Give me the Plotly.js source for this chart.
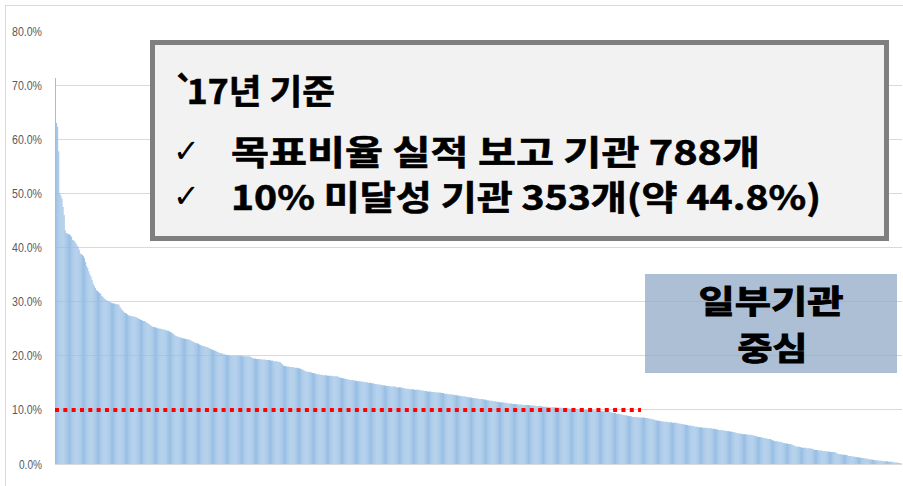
<!DOCTYPE html>
<html>
<head>
<meta charset="utf-8">
<script src="https://cdn.plot.ly/plotly-3.0.1.min.js"></script>
<style>
  html, body { margin: 0; padding: 0; width: 903px; height: 486px; overflow: hidden; background: #ffffff; }
  #frame { position: absolute; left: 5px; top: 5px; width: 920px; height: 520px; border: 1px solid #d9d9d9; box-sizing: border-box; }
  #chart { position: absolute; left: 0; top: 0; width: 903px; height: 486px; }
</style>
</head>
<body>
<div id="frame"></div>
<div id="chart"></div>
<script>
// Ratio (%) per institution, sorted descending (788 institutions, 2017)
const ratios = [
71.3,63.0,62.3,57.8,50.0,49.6,49.0,47.5,46.0,43.2,
42.7,42.6,42.5,42.4,42.2,42.0,41.4,41.3,41.1,40.8,
40.4,40.1,39.6,38.9,38.8,38.6,38.4,38.0,37.3,36.6,
36.2,35.6,35.0,34.6,34.0,33.3,32.9,32.5,32.1,32.0,
31.8,31.6,31.5,31.1,30.9,30.7,30.5,30.3,30.2,30.1,
30.0,29.9,29.8,29.7,29.7,29.6,29.6,29.5,29.5,29.4,
29.0,28.7,28.4,28.2,28.0,27.9,27.8,27.6,27.5,27.4,
27.4,27.3,27.3,27.2,27.2,27.1,27.0,26.9,26.8,26.7,
26.6,26.5,26.4,26.4,26.3,26.1,26.0,25.8,25.7,25.5,
25.4,25.3,25.3,25.2,25.2,25.1,25.1,25.0,25.0,24.9,
24.9,24.8,24.8,24.7,24.6,24.6,24.5,24.4,24.3,24.1,
24.0,23.8,23.7,23.6,23.5,23.4,23.4,23.3,23.3,23.2,
23.2,23.1,23.1,23.0,23.0,22.9,22.8,22.7,22.6,22.5,
22.4,22.3,22.3,22.2,22.1,22.0,21.9,21.8,21.8,21.7,
21.6,21.6,21.5,21.4,21.3,21.2,21.1,21.0,21.0,20.9,
20.8,20.7,20.6,20.5,20.5,20.4,20.3,20.3,20.2,20.2,
20.1,20.1,20.1,20.0,20.0,20.0,20.0,20.0,20.0,20.0,
20.0,20.0,20.0,20.0,19.9,19.9,19.9,19.9,19.9,19.9,
19.9,19.8,19.7,19.6,19.5,19.5,19.5,19.4,19.4,19.4,
19.4,19.3,19.3,19.3,19.3,19.3,19.2,19.2,19.2,19.2,
19.1,19.1,19.1,19.0,19.0,19.0,19.0,18.9,18.9,18.8,
18.6,18.4,18.2,18.1,18.1,18.0,18.0,18.0,17.9,17.9,
17.9,17.9,17.8,17.8,17.8,17.8,17.7,17.7,17.6,17.5,
17.4,17.3,17.2,17.1,17.1,17.0,17.0,17.0,16.9,16.8,
16.8,16.7,16.7,16.6,16.6,16.6,16.5,16.5,16.5,16.4,
16.4,16.4,16.4,16.3,16.3,16.3,16.3,16.3,16.2,16.2,
16.2,16.2,16.2,16.1,16.0,16.0,15.9,15.9,15.8,15.8,
15.7,15.7,15.6,15.6,15.5,15.5,15.5,15.5,15.4,15.4,
15.4,15.3,15.3,15.3,15.3,15.2,15.2,15.2,15.1,15.1,
15.1,15.0,15.0,15.0,14.9,14.9,14.9,14.8,14.8,14.8,
14.7,14.7,14.7,14.6,14.6,14.5,14.5,14.5,14.4,14.4,
14.4,14.4,14.3,14.3,14.3,14.3,14.3,14.2,14.2,14.2,
14.2,14.2,14.1,14.1,14.0,14.0,13.9,13.9,13.9,13.8,
13.8,13.8,13.8,13.8,13.7,13.7,13.7,13.7,13.7,13.7,
13.6,13.6,13.6,13.5,13.5,13.5,13.4,13.4,13.4,13.4,
13.3,13.3,13.3,13.3,13.2,13.2,13.2,13.2,13.2,13.1,
13.1,13.1,13.0,13.0,13.0,12.9,12.9,12.9,12.9,12.8,
12.8,12.8,12.7,12.7,12.7,12.6,12.6,12.6,12.5,12.5,
12.5,12.5,12.4,12.4,12.4,12.3,12.3,12.3,12.2,12.2,
12.2,12.1,12.1,12.1,12.0,12.0,12.0,12.0,11.9,11.9,
11.9,11.8,11.8,11.8,11.7,11.7,11.7,11.6,11.6,11.6,
11.5,11.5,11.5,11.4,11.4,11.4,11.4,11.3,11.3,11.3,
11.3,11.2,11.2,11.2,11.2,11.1,11.1,11.1,11.1,11.1,
11.0,11.0,11.0,11.0,11.0,10.9,10.9,10.9,10.9,10.9,
10.9,10.9,10.8,10.8,10.8,10.8,10.8,10.7,10.7,10.7,
10.7,10.7,10.7,10.6,10.6,10.6,10.6,10.6,10.6,10.6,
10.5,10.5,10.5,10.5,10.5,10.5,10.5,10.4,10.4,10.4,
10.4,10.4,10.3,10.3,10.3,10.3,10.3,10.3,10.2,10.2,
10.2,10.2,10.2,10.2,10.2,10.1,10.1,10.1,10.1,10.1,
10.1,10.1,10.0,10.0,10.0,10.0,10.0,10.0,10.0,10.0,
10.0,9.9,9.9,9.9,9.9,9.9,9.9,9.8,9.8,9.8,
9.7,9.7,9.7,9.6,9.6,9.6,9.6,9.5,9.5,9.4,
9.4,9.4,9.3,9.3,9.3,9.2,9.2,9.1,9.1,9.0,
9.0,9.0,8.9,8.9,8.8,8.8,8.8,8.7,8.7,8.7,
8.7,8.7,8.6,8.6,8.6,8.6,8.6,8.6,8.6,8.5,
8.5,8.5,8.4,8.4,8.3,8.3,8.2,8.2,8.1,8.1,
8.0,8.0,8.0,7.9,7.9,7.9,7.8,7.8,7.8,7.8,
7.7,7.7,7.7,7.7,7.6,7.6,7.6,7.6,7.6,7.5,
7.5,7.5,7.4,7.4,7.3,7.3,7.3,7.2,7.2,7.1,
7.1,7.1,7.0,7.0,7.0,6.9,6.9,6.9,6.8,6.8,
6.8,6.8,6.7,6.7,6.7,6.7,6.7,6.6,6.6,6.6,
6.6,6.5,6.5,6.5,6.4,6.4,6.4,6.3,6.3,6.3,
6.3,6.2,6.2,6.2,6.1,6.1,6.1,6.0,6.0,6.0,
5.9,5.9,5.8,5.8,5.7,5.7,5.7,5.6,5.6,5.6,
5.5,5.5,5.5,5.5,5.4,5.4,5.4,5.4,5.3,5.3,
5.2,5.2,5.1,5.1,5.0,5.0,5.0,4.9,4.9,4.8,
4.8,4.7,4.7,4.6,4.6,4.6,4.5,4.4,4.3,4.3,
4.2,4.2,4.2,4.1,4.1,4.0,4.0,3.9,3.9,3.8,
3.8,3.8,3.7,3.7,3.7,3.6,3.5,3.4,3.3,3.3,
3.2,3.2,3.2,3.1,3.1,3.0,3.0,3.0,3.0,2.9,
2.9,2.9,2.9,2.8,2.8,2.7,2.7,2.6,2.6,2.6,
2.5,2.5,2.5,2.5,2.4,2.4,2.4,2.3,2.3,2.3,
2.3,2.2,2.2,2.2,2.2,2.2,2.1,2.0,1.9,1.8,
1.8,1.8,1.7,1.7,1.7,1.7,1.6,1.6,1.5,1.5,
1.5,1.4,1.4,1.4,1.3,1.3,1.3,1.2,1.2,1.2,
1.1,1.1,1.1,1.0,1.0,1.0,0.9,0.9,0.9,0.8,
0.8,0.8,0.7,0.7,0.7,0.7,0.6,0.6,0.6,0.6,
0.5,0.5,0.5,0.5,0.5,0.4,0.4,0.4,0.4,0.4,
0.3,0.3,0.3,0.3,0.2,0.2,0.1,0.1
];
const institutions = ratios.map((_, i) => i + 1);
const yTicks = [0, 10, 20, 30, 40, 50, 60, 70, 80];
const yTickLabels = ['0.0%', '10.0%', '20.0%', '30.0%', '40.0%', '50.0%', '60.0%', '70.0%', '80.0%'];
const targetRatio = 10;           // 10% target line
const targetLineEndIndex = 544.7; // where the dotted target line ends (bar index)

const boxTitle = "`17년 기준";
const boxLine1 = "목표비율 실적 보고 기관 788개";
const boxLine2 = "10% 미달성 기관 353개(약 44.8%)";
const sideNoteLine1 = "일부기관";
const sideNoteLine2 = "중심";

// pixel helpers for annotation placement
const W = 903, H = 486, ML = 55, MR = 1, MT = 31, MB = 22;
const PW = W - ML - MR, PH = H - MT - MB;
const px = v => (v - ML) / PW;
const py = v => (H - MB - v) / PH;

const trace = {
  type: 'bar',
  x: institutions.map(i => i - 1),
  y: ratios,
  marker: { color: '#94bce3', line: { width: 0 } },
  hoverinfo: 'skip'
};

const korFont = "'Noto Sans CJK KR', 'Noto Sans', sans-serif";
const bold = (size) => ({ family: korFont, size: size, weight: 'bold', color: '#000' });
const checkFont = { family: "'DejaVu Sans', sans-serif", size: 32, color: '#000' };

// [annotation, target rendered width in px (null = natural), anchor, extra stroke]
const notes = [
  [{ x: px(172), y: py(90), xanchor: 'left', text: boxTitle, font: bold(34) }, 161, 'left', 0.6],
  [{ x: px(171), y: py(151), xanchor: 'left', text: '✓', font: checkFont }, null, 'left', 0],
  [{ x: px(229), y: py(150), xanchor: 'left', text: boxLine1, font: bold(34) }, 529, 'left', 0.6],
  [{ x: px(171), y: py(196), xanchor: 'left', text: '✓', font: checkFont }, null, 'left', 0],
  [{ x: px(229), y: py(195), xanchor: 'left', text: boxLine2, font: bold(34) }, 590, 'left', 0.6],
  [{ x: px(771), y: py(299), xanchor: 'center', text: sideNoteLine1, font: bold(32) }, 145, 'center', 1.0],
  [{ x: px(772), y: py(346), xanchor: 'center', text: sideNoteLine2, font: bold(32) }, 70, 'center', 1.0]
];

const layout = {
  width: W, height: H,
  margin: { l: ML, r: MR, t: MT, b: MB, pad: 0 },
  paper_bgcolor: 'rgba(0,0,0,0)',
  plot_bgcolor: 'rgba(0,0,0,0)',
  showlegend: false,
  bargap: 0.12,
  xaxis: {
    range: [-0.5, ratios.length - 0.5],
    showticklabels: false, showgrid: false, zeroline: false, ticks: '',
    showline: false, fixedrange: true
  },
  yaxis: {
    range: [0, 80],
    tickmode: 'array', tickvals: yTicks, ticktext: yTickLabels,
    tickfont: { family: "'Liberation Sans Narrow', 'Arial Narrow', 'Liberation Sans', sans-serif", size: 13, color: '#595959' },
    gridcolor: '#d9d9d9', gridwidth: 1,
    zeroline: true, zerolinecolor: '#d9d9d9', zerolinewidth: 1,
    ticks: '', ticklabelstandoff: 12, showline: false, fixedrange: true
  },
  shapes: [
    { type: 'line', xref: 'x', yref: 'y', x0: -0.5, x1: targetLineEndIndex, y0: targetRatio, y1: targetRatio,
      line: { color: '#ff0000', width: 4, dash: '4px,4.33px' } },
    { type: 'rect', xref: 'paper', yref: 'paper', x0: px(152.5), x1: px(886.5), y0: py(238.5), y1: py(42.5),
      fillcolor: '#f2f2f2', line: { color: '#7f7f7f', width: 5 }, layer: 'above' },
    { type: 'rect', xref: 'paper', yref: 'paper', x0: px(645), x1: px(897), y0: py(373), y1: py(274),
      fillcolor: 'rgba(146,170,199,0.75)', line: { width: 0 }, layer: 'above' }
  ],
  annotations: notes.map(n => Object.assign({ xref: 'paper', yref: 'paper', yanchor: 'middle', showarrow: false }, n[0]))
};

Plotly.newPlot('chart', [trace], layout, { staticPlot: true, displayModeBar: false }).then(() => {
  notes.forEach((n, idx) => {
    const el = document.querySelector('#chart .annotation[data-index="' + idx + '"] text.annotation-text');
    if (!el) return;
    if (n[2] === 'left') {
      const bb = el.getBBox();
      el.setAttribute('text-anchor', 'start');
      el.setAttribute('x', bb.x);
    }
    if (idx === 0) {
      // the reference's backtick hugs the "17"
      el.setAttribute('dx', '0 -9');
    }
    if (n[1]) {
      el.setAttribute('textLength', n[1]);
      el.setAttribute('lengthAdjust', 'spacingAndGlyphs');
    }
    if (n[3]) {
      el.style.stroke = '#000';
      el.style.strokeWidth = n[3] + 'px';
    }
  });
  // narrow tick labels like the reference's condensed face
  document.querySelectorAll('#chart .ytick text').forEach(t => {
    const len = t.textContent.length >= 5 ? 30 : 23;
    t.setAttribute('textLength', len);
    t.setAttribute('lengthAdjust', 'spacingAndGlyphs');
  });
});
</script>
</body>
</html>
